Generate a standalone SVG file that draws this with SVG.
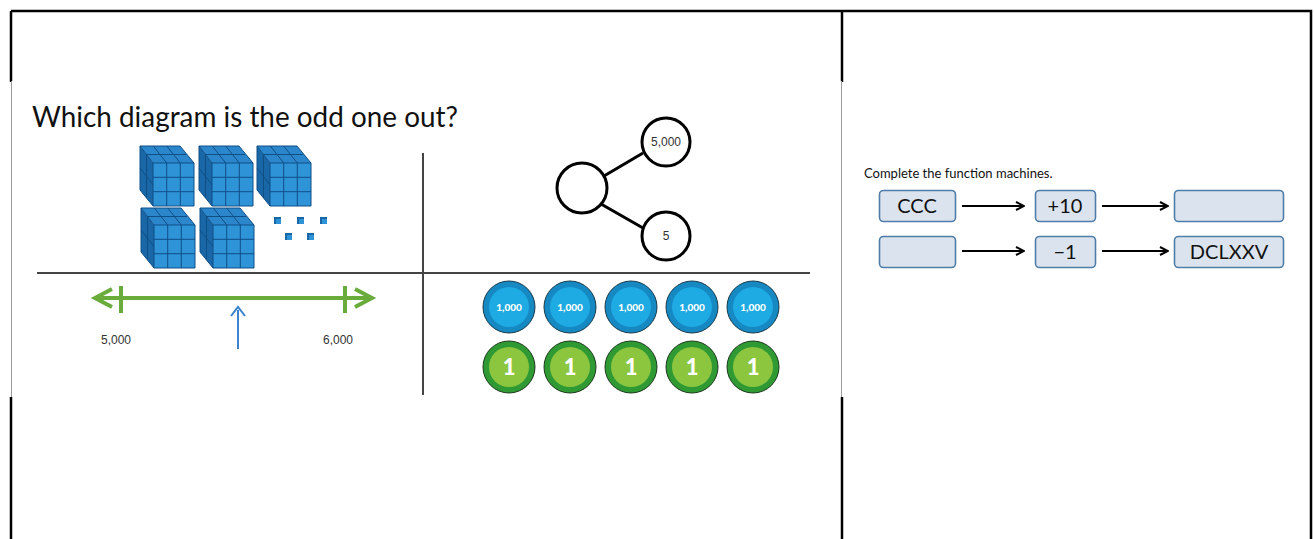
<svg xmlns="http://www.w3.org/2000/svg" width="1314" height="539" viewBox="0 0 1314 539">
  <style>
    .rule { stroke: #000; stroke-width: 2.5; fill: none; }
    .thin { stroke: #9a9a9a; stroke-width: 1; fill: none; }
    .axis { stroke: #444; stroke-width: 2; fill: none; }
    .ttl { font-family: Lato, "Open Sans", sans-serif; font-size: 29px; fill: #111; }
    .lbl { font-family: "Liberation Sans", Arial, sans-serif; font-size: 12px; fill: #333; }
    .bond { fill: #fff; stroke: #000; stroke-width: 3; }
    .bondline { stroke: #000; stroke-width: 3; }
    .green { stroke: #6aac3c; stroke-width: 4; fill: none; stroke-linecap: butt; }
    .cnt-b { fill: #1688c2; stroke: #1a3a4a; stroke-width: 1; }
    .cnt-bi { fill: #1eaae2; }
    .cnt-g { fill: #2f9a33; stroke: #1d3a1d; stroke-width: 1; }
    .cnt-gi { fill: #8cc63f; }
    .t-b { font-family: Lato, "Open Sans", sans-serif; font-weight: 900; font-size: 10px; fill: #fff; text-anchor: middle; }
    .t-g { font-family: Lato, "Open Sans", sans-serif; font-weight: 900; font-size: 22px; fill: #fff; text-anchor: middle; }
    .box { fill: #dbe4ee; stroke: #4f7daa; stroke-width: 1.6; }
    .boxt { font-family: Lato, "Open Sans", sans-serif; font-size: 20px; fill: #111; text-anchor: middle; }
    .note { font-family: Lato, "Open Sans", sans-serif; font-size: 13px; fill: #111; }
    .flow { stroke: #000; stroke-width: 1.8; fill: none; }
    .grid { stroke: #0e4f86; stroke-width: 1; fill: none; }
  </style>
  <defs>
    <!-- thousand block: 10x10x10 cube -->
    <g id="cube">
      <polygon points="0,0 40,0 54,17 13,17" fill="#2c86cc"/>
      <polygon points="0,0 13,17 13,60 0,44" fill="#1a67a8"/>
      <rect x="13" y="17" width="41" height="43" fill="#2f93d8"/>
      <path class="grid" d="M26.7,17V60M40.3,17V60M13,31.3H54M13,45.7H54"/>
      <path class="grid" d="M13.3,0L26.7,17M26.7,0L40.3,17M6,8.5H46"/>
      <path class="grid" d="M6.5,8.5V52M0,22L13,38.7"/>
      <polygon points="0,0 40,0 54,17 54,60 13,60 0,44" fill="none" stroke="#0e4f86" stroke-width="1"/>
      <path d="M13,17L0,0M13,17H54M13,17V60" fill="none" stroke="#0e4f86" stroke-width="1"/>
    </g>
    <g id="unit">
      <rect x="0" y="0" width="7" height="7" fill="#2f93d8"/>
      <path d="M0,0H7V2H2V7H0Z" fill="#1a67a8"/>
    </g>
    <g id="thousand">
      <circle r="26" class="cnt-b"/>
      <circle r="20" class="cnt-bi"/>
      <text y="3.5" class="t-b">1,000</text>
    </g>
    <g id="one">
      <circle r="26" class="cnt-g"/>
      <circle r="20" class="cnt-gi"/>
      <text y="8" class="t-g">1</text>
    </g>
    <marker id="head" viewBox="0 0 10 10" refX="9" refY="5" markerWidth="10" markerHeight="10" orient="auto" markerUnits="userSpaceOnUse">
      <path d="M1,1L9,5L1,9" fill="none" stroke="#000" stroke-width="2"/>
    </marker>
  </defs>

  <rect width="1314" height="539" fill="#fff"/>

  <!-- table rules -->
  <g id="table">
    <path class="rule" d="M11,11H1311V539M11,11V82M11,397V539M842,11V82M842,397V539"/>
  </g>

  <!-- left cell: odd-one-out picture -->
  <g id="puzzle">
    <rect x="11" y="81" width="831" height="316" fill="#fff"/>
    <path class="thin" d="M11.5,81V397M841.5,81V397"/>
    <text class="ttl" x="32" y="127" textLength="426" lengthAdjust="spacingAndGlyphs">Which diagram is the odd one out?</text>
    <path class="axis" d="M37,273H810M423,153V395"/>
  </g>

  <g id="base-ten">
    <use href="#cube" x="140" y="146"/>
    <use href="#cube" x="199" y="146"/>
    <use href="#cube" x="257" y="146"/>
    <use href="#cube" x="141" y="208"/>
    <use href="#cube" x="200" y="208"/>
    <use href="#unit" x="274" y="217"/>
    <use href="#unit" x="297" y="217"/>
    <use href="#unit" x="320" y="217"/>
    <use href="#unit" x="285" y="233"/>
    <use href="#unit" x="307" y="233"/>
  </g>

  <g id="number-bond">
    <line class="bondline" x1="604" y1="176" x2="643" y2="153"/>
    <line class="bondline" x1="601" y1="204" x2="643" y2="228"/>
    <circle class="bond" cx="582" cy="188" r="25"/>
    <circle class="bond" cx="666" cy="142" r="24"/>
    <circle class="bond" cx="666" cy="236" r="24"/>
    <text class="lbl" x="666" y="146" text-anchor="middle" font-size="11">5,000</text>
    <text class="lbl" x="666" y="240" text-anchor="middle" font-size="11">5</text>
  </g>

  <g id="number-line">
    <path class="green" d="M95,298H372M112,289L95,298L112,307M355,289L372,298L355,307M121,286V313M345,286V313"/>
    <path d="M238,349V310" stroke="#3b82cf" stroke-width="2" fill="none"/>
    <path d="M231,316L238,307L245,316" stroke="#3b82cf" stroke-width="2" fill="none"/>
    <text class="lbl" x="101" y="344">5,000</text>
    <text class="lbl" x="323" y="344">6,000</text>
  </g>

  <g id="counters">
    <use href="#thousand" x="509" y="307"/>
    <use href="#thousand" x="570" y="307"/>
    <use href="#thousand" x="631" y="307"/>
    <use href="#thousand" x="692" y="307"/>
    <use href="#thousand" x="753" y="307"/>
    <use href="#one" x="509" y="367"/>
    <use href="#one" x="570" y="367"/>
    <use href="#one" x="631" y="367"/>
    <use href="#one" x="692" y="367"/>
    <use href="#one" x="753" y="367"/>
  </g>

  <!-- right cell: function machines -->
  <text class="note" x="864" y="178">Complete the function machines.</text>
  <g id="m-in1"><rect class="box" x="879.5" y="190.5" width="76" height="31" rx="4"/><text class="boxt" x="917" y="213">CCC</text></g>
  <g id="m-op1"><rect class="box" x="1035.5" y="190.5" width="60" height="31" rx="4"/><text class="boxt" x="1065" y="213">+10</text></g>
  <g id="m-out1"><rect class="box" x="1174.5" y="190.5" width="109" height="31" rx="4"/></g>
  <g id="m-in2"><rect class="box" x="879.5" y="236.5" width="76" height="31" rx="4"/></g>
  <g id="m-op2"><rect class="box" x="1035.5" y="236.5" width="60" height="31" rx="4"/><text class="boxt" x="1065" y="259">−1</text></g>
  <g id="m-out2"><rect class="box" x="1174.5" y="236.5" width="109" height="31" rx="4"/><text class="boxt" x="1229" y="259">DCLXXV</text></g>
  <g id="connectors">
    <line class="flow" x1="962" y1="206" x2="1024" y2="206" marker-end="url(#head)"/>
    <line class="flow" x1="1102" y1="206" x2="1168" y2="206" marker-end="url(#head)"/>
    <line class="flow" x1="962" y1="251" x2="1024" y2="251" marker-end="url(#head)"/>
    <line class="flow" x1="1102" y1="251" x2="1168" y2="251" marker-end="url(#head)"/>
  </g>
</svg>
